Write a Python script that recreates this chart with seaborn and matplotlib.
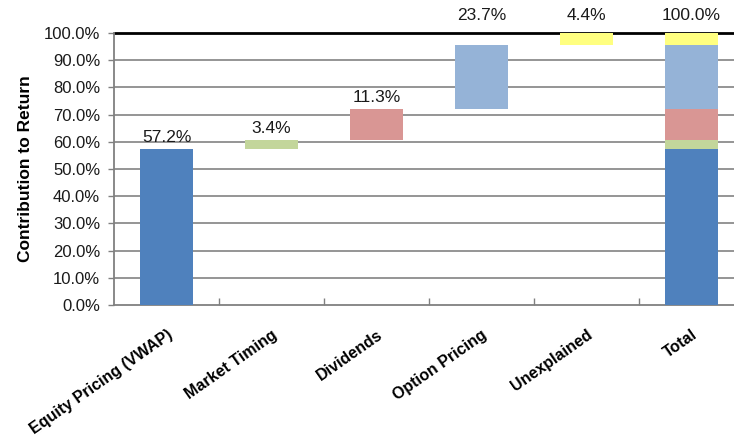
import matplotlib
matplotlib.use("Agg")
import matplotlib.pyplot as plt
import seaborn as sns
import numpy as np
from matplotlib.ticker import FuncFormatter, FixedLocator

# Return attribution components (percent of total return)
categories = ["Equity Pricing (VWAP)", "Market Timing", "Dividends",
              "Option Pricing", "Unexplained", "Total"]
components = ["Equity Pricing (VWAP)", "Market Timing", "Dividends",
              "Option Pricing", "Unexplained"]
contributions = [57.2, 3.4, 11.3, 23.7, 4.4]
total_value = 100.0
colors = ["#4F81BD", "#C3D69B", "#D99694", "#95B3D7", "#FFFF80"]
y_ticks = [0, 10, 20, 30, 40, 50, 60, 70, 80, 90, 100]

sns.set_theme(style="white")
plt.rcParams["font.family"] = ["Liberation Sans", "DejaVu Sans"]

fig = plt.figure(figsize=(7.34, 4.38), dpi=100)
ax = fig.add_axes([114 / 734, 133 / 438, 630 / 734, 272 / 438])

# Waterfall: each component floats on the running sum, and also stacks in Total
bottoms = np.concatenate([[0.0], np.cumsum(contributions)[:-1]])
for comp, val, base, col in zip(components, contributions, bottoms, colors):
    sns.barplot(x=[comp, "Total"], y=[val, val], bottom=base, order=categories,
                color=col, width=0.5, saturation=1, ax=ax, zorder=3,
                linewidth=0)

# Value labels
tops = bottoms + np.array(contributions)
label_texts = [f"{v:.1f}%" for v in contributions] + [f"{total_value:.1f}%"]
label_tops = list(tops) + [total_value]
for i, (txt, top) in enumerate(zip(label_texts, label_tops)):
    y = top + 4.4 if top < 90 else 106.6
    ax.text(i, y, txt, ha="center", va="center", fontsize=12.5,
            color="#1a1a1a", clip_on=False)

ax.set_xlim(-0.5, 5.5)
ax.set_ylim(0, 100)
ax.yaxis.set_major_locator(FixedLocator(y_ticks))
ax.yaxis.set_major_formatter(FuncFormatter(lambda v, p: f"{v:.1f}%"))
ax.tick_params(axis="y", labelsize=12, colors="#1a1a1a", length=4,
               width=1, direction="out", left=True, pad=6)
ax.tick_params(axis="y", color="#808080")

# Gridlines
for t in y_ticks[1:-1]:
    ax.axhline(t, color="#8c8c8c", linewidth=1.3, zorder=1)
ax.axhline(100, color="black", linewidth=2, zorder=2, clip_on=False)

# Category boundary ticks on the x axis, pointing inward
ax.set_xticks(range(len(categories)))
ax.set_xticklabels(categories, rotation=35, ha="right", va="top",
                   rotation_mode="anchor", fontsize=11.5, fontweight="bold",
                   color="black")
ax.tick_params(axis="x", which="major", length=0, pad=16)
ax.set_xticks(np.arange(0.5, 5.5, 1.0), minor=True)
ax.tick_params(axis="x", which="minor", length=5, width=1, direction="in",
               color="#808080", bottom=True)
ax.set_xlabel("")

ax.set_ylabel("Contribution to Return", fontsize=12.5, fontweight="bold",
              labelpad=8, color="black")

for side in ["top", "right"]:
    ax.spines[side].set_visible(False)
for side in ["left", "bottom"]:
    ax.spines[side].set_color("#808080")
    ax.spines[side].set_linewidth(1.3)

fig.savefig("out.png", dpi=100)
